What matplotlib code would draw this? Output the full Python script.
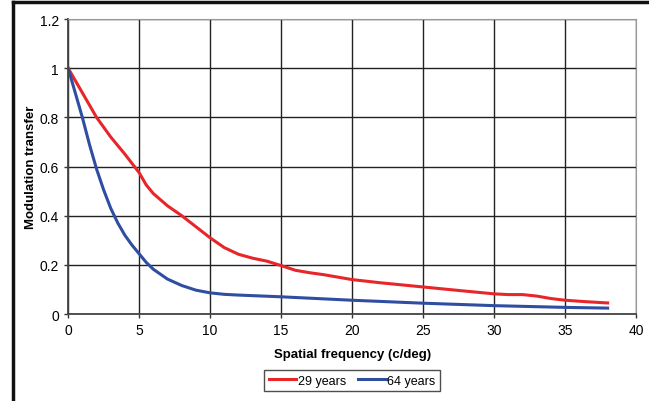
"Modulation transfer vs spatial frequency for two ages"

import matplotlib
matplotlib.use('Agg')
import matplotlib.pyplot as plt
from matplotlib.lines import Line2D

plt.rcParams['font.family'] = ['Liberation Sans', 'DejaVu Sans']

freq_29 = [0, 1, 2, 3, 4, 5, 5.5, 6, 7, 8, 9, 10, 11, 12, 13, 14, 15, 16, 17,
           18, 20, 22, 25, 28, 30, 31, 32, 33, 34, 35, 36.5, 38]
mtf_29 = [1.0, 0.90, 0.80, 0.72, 0.65, 0.575, 0.525, 0.49, 0.44, 0.40, 0.355,
          0.31, 0.27, 0.243, 0.227, 0.215, 0.197, 0.178, 0.168, 0.16, 0.14,
          0.127, 0.11, 0.093, 0.082, 0.079, 0.079, 0.073, 0.063, 0.056, 0.05,
          0.045]

freq_64 = [0, 0.5, 1, 1.5, 2, 2.5, 3, 3.5, 4, 4.5, 5, 5.5, 6, 7, 8, 9, 10, 11,
           12, 15, 20, 25, 30, 35, 38]
mtf_64 = [1.0, 0.9, 0.8, 0.69, 0.59, 0.505, 0.43, 0.37, 0.32, 0.28, 0.245,
          0.21, 0.182, 0.142, 0.116, 0.097, 0.086, 0.08, 0.077, 0.07, 0.056,
          0.044, 0.034, 0.027, 0.024]

fig = plt.figure(figsize=(6.49, 4.02), dpi=100)
ax = fig.add_axes([0.105, 0.2164, 0.875, 0.7338])

ax.plot(freq_29, mtf_29, color='#e8262a', lw=2.2, label='29 years')
ax.plot(freq_64, mtf_64, color='#2f4ea2', lw=2.2, label='64 years')

ax.set_xlim(0, 40)
ax.set_ylim(0, 1.2)
ax.set_xticks(range(0, 41, 5))
ax.set_yticks([0, 0.2, 0.4, 0.6, 0.8, 1, 1.2])
ax.set_yticklabels(['0', '0.2', '0.4', '0.6', '0.8', '1', '1.2'])
ax.tick_params(labelsize=10, length=3, width=1, direction='out', color='#333333')
ax.grid(True, color='#222222', lw=1)
ax.set_axisbelow(True)
for side in ['top', 'right']:
    ax.spines[side].set_color('#999999')
for side in ['left', 'bottom']:
    ax.spines[side].set_color('#444444')
    ax.spines[side].set_linewidth(1.3)

ax.set_xlabel('Spatial frequency (c/deg)', fontsize=9.5, fontweight='bold', labelpad=8)
ax.set_ylabel('Modulation transfer', fontsize=9.5, fontweight='bold')
ax.yaxis.set_label_coords(-0.055, 0.5)

leg = ax.legend(loc='upper center', bbox_to_anchor=(0.5, -0.17), ncol=2,
                fontsize=9, frameon=True, fancybox=False, handlelength=2.2,
                handletextpad=0.1, columnspacing=1.0, borderpad=0.35)
leg.get_frame().set_edgecolor('#222222')
leg.get_frame().set_linewidth(1)

# outer frame lines (left and top)
fig.add_artist(Line2D([0.0195, 0.0195], [0, 0.993], color='#111111', lw=2.5))
fig.add_artist(Line2D([0.0195, 1.0], [0.993, 0.993], color='#111111', lw=2.5))

fig.savefig('out.png', dpi=100)
